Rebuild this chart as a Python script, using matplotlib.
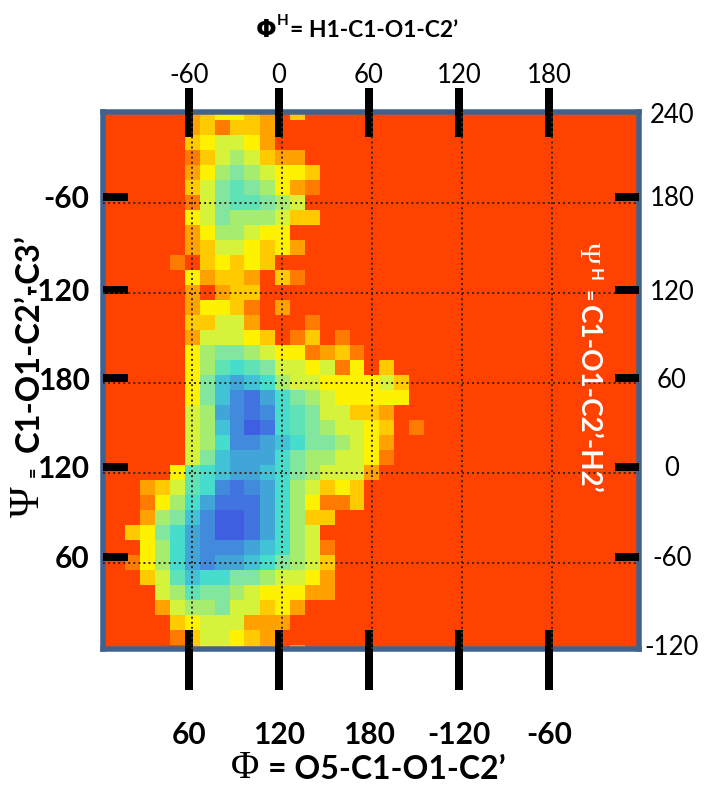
import numpy as np
import matplotlib
matplotlib.use("Agg")
import matplotlib.pyplot as plt
from matplotlib.colors import ListedColormap, BoundaryNorm

# ---------------- data ----------------
# Phi bin centres (deg) of the columns that contain non-background cells
phi_centers = np.arange(0, 220, 10)
# Psi bin centres (deg), rows listed from top (360) to bottom (0)
psi_centers = np.arange(360, -10, -10)
# relative free-energy level per cell, hex digit 0 (lowest, blue) .. e (highest, red background)
energy_rows = [
    "eeeeeecbaabcebeeeeeeee",  # 360
    "eeeeeecbdbbceeeeeeeeee",  # 350
    "eeeeeeba99aceeeeeeeeee",  # 340
    "eeeeeedb989bcceeeeeeee",  # 330
    "eeeeeeca8789aabeeeeeee",  # 320
    "eeeeeeb97678acdeeeeeee",  # 310
    "eeeeeed9766789eeeeeeee",  # 300
    "eeeeeea978889bbeeeeeee",  # 290
    "eeeeeeca889aaeeeeeeeee",  # 280
    "eeeeeecb99abaceeeeeeee",  # 270
    "eeeeedebababeeeeeeeeee",  # 260
    "eeeeeeacbbcebdeeeeeeee",  # 250
    "eeeeeececbbeeeeeeeeeee",  # 240
    "eeeeeecaabdeceeeeeeeee",  # 230
    "eeeeeebb99ceeedeeeeeee",  # 220
    "eeeeeec999abedbedeeeee",  # 210
    "eeeeeea87789aadcbdeeee",  # 200
    "eeeeeea8656799a9daebee",  # 190
    "eeeeeea74345899aaaa9be",  # 180
    "eeeeeea742135789aaaaae",  # 170
    "eeeeee98321256799bbcee",  # 160
    "eeeeee984201567899abed",  # 150
    "eeeeee985223457789acee",  # 140
    "eeeeee974333578899adee",  # 130
    "eeeeea654334578999ceee",  # 120
    "eeecb9652123589babeeee",  # 110
    "eeeda853111358addbeeee",  # 100
    "eeec8742001358bbeeeeee",  # 90
    "eeba75320013589eeeeeee",  # 80
    "eeea85322234589deeeeee",  # 70
    "eeda85323345789beeeeee",  # 60
    "eeeb9645577899aceeeeee",  # 50
    "eeee9867789aaacceeeeee",  # 40
    "eeeec988799baceeeeeeee",  # 30
    "eeeeeba999ccceeeeeeeee",  # 20
    "eeeeedb99abceeeeeeeeee",  # 10
    "eeeeeebaaabceceeeeeeee",  # 0
]
level_colors = ["#3E5FE0", "#4174E0", "#428BDC", "#42A5D8", "#42C2D6",
                "#46DDCC", "#5EE2B6", "#82E69E", "#A6EC6E", "#D4F33A",
                "#FFF200", "#FFCA00", "#FFA200", "#FF7A00", "#FF4200"]

bottom_tick_labels = ["60", "120", "180", "-120", "-60"]
top_tick_labels = ["-60", "0", "60", "120", "180"]
left_tick_labels = ["60", "120", "180", "-120", "-60"]
right_tick_labels = ["-60", "0", "60", "120", "180"]
right_end_labels = ["-120", "240"]

# ---------------- figure ----------------
W, H = 706, 787
plt.rcParams["font.family"] = ["Lato", "DejaVu Sans"]
fig = plt.figure(figsize=(W / 100, H / 100), dpi=100)


def fpx(x, y):
    return x / W, 1 - y / H


def pt(px):
    return px * 0.72


ax = fig.add_axes([102.5 / W, 1 - 649 / H, (639 - 102.5) / W, (649 - 111.5) / H])
xlim = ((102.5 - 102) / 1.5, (639 - 102) / 1.5)
ylim = ((652.5 - 649) / 1.5, (652.5 - 111.5) / 1.5)

Z = np.array([[int(ch, 16) for ch in row] for row in energy_rows])[::-1]
psi_up = psi_centers[::-1]
phi_edges = np.append(phi_centers - 5, phi_centers[-1] + 5)
psi_edges = np.append(psi_up - 5, psi_up[-1] + 5)
cmap = ListedColormap(level_colors)
norm = BoundaryNorm(np.arange(-0.5, len(level_colors) + 0.5, 1), len(level_colors))
ax.set_facecolor(level_colors[-1])
ax.pcolormesh(phi_edges, psi_edges, Z, cmap=cmap, norm=norm, shading="flat", zorder=1)
ax.set_xlim(*xlim)
ax.set_ylim(*ylim)
ax.set_axisbelow(False)

grid_kw = dict(color="#3a2418", linestyle=(0, (1, 1.6)), linewidth=1.4)
bar_w = pt(8)

# bottom axis (Phi)
ax.set_xticks([58, 118, 178, 238, 298], labels=bottom_tick_labels)
ax.set_xticks([58, 118, 178, 238, 298], minor=True)
ax.xaxis.remove_overlapping_locs = False
ax.tick_params(axis="x", which="major", direction="out", length=pt(41), width=bar_w,
               color="black", labelsize=21.5, pad=pt(31))
ax.tick_params(axis="x", which="minor", direction="in", length=pt(19), width=bar_w,
               color="black")
for t in ax.get_xticklabels():
    t.set_fontweight("bold")

# left axis (Psi)
ax.set_yticks([64, 124, 183, 242, 304], labels=left_tick_labels)
ax.set_yticks([60, 120, 180, 240, 300], minor=True)
ax.tick_params(axis="y", which="major", direction="in", length=pt(25), width=bar_w,
               color="black", labelsize=21.5, pad=pt(13))
ax.tick_params(axis="y", which="minor", length=0)
ax.yaxis.grid(True, which="minor", **grid_kw)
for t in ax.get_yticklabels():
    t.set_fontweight("bold")

for s in ax.spines.values():
    s.set_color("#41628F")
    s.set_linewidth(pt(5.5))

# top axis (Phi^H)
ax2 = ax.twiny()
ax2.set_xlim(*xlim)
ax2.set_xticks([58, 118, 178, 238, 298], labels=top_tick_labels)
ax2.set_xticks([60, 120, 180, 240, 300], minor=True)
ax2.tick_params(axis="x", which="major", direction="inout", length=pt(49), width=bar_w,
                color="black", labelsize=18.5, pad=-1)
ax2.tick_params(axis="x", which="minor", length=0)
ax2.xaxis.grid(True, which="minor", **grid_kw)

# right axis (Psi^H)
ax3 = ax.twinx()
ax3.set_ylim(*ylim)
ax3.set_yticks([64, 124, 183, 242, 304], labels=right_tick_labels)
ax3.set_yticks([5, 360], labels=right_end_labels, minor=True)
ax3.tick_params(axis="y", which="major", direction="in", length=pt(24), width=bar_w,
                color="black", labelsize=18.5, pad=pt(33))
ax3.tick_params(axis="y", which="minor", length=0, labelsize=18.5, pad=pt(33))
for t in ax3.yaxis.get_ticklabels(which="both"):
    t.set_horizontalalignment("center")

for a in (ax2, ax3):
    for s in a.spines.values():
        s.set_visible(False)

# ---------------- axis titles ----------------
serif = ["Liberation Serif", "DejaVu Serif"]
# top
fig.text(*fpx(256, 37), "Φ", ha="left", va="baseline", fontsize=17.5, fontweight="bold",
         family=["DejaVu Sans"])
fig.text(*fpx(277, 25), "H", ha="left", va="baseline", fontsize=11, fontweight="bold")
fig.text(*fpx(290, 37), "= H1-C1-O1-C2’", ha="left", va="baseline", fontsize=16.5,
         fontweight="bold")
# bottom
fig.text(*fpx(231, 778), "Φ", ha="left", va="baseline", fontsize=28, family=serif)
fig.text(*fpx(268, 779), "= O5-C1-O1-C2’", ha="left", va="baseline", fontsize=23,
         fontweight="bold")
# left
fig.text(*fpx(39, 517), "Ψ", rotation=90, rotation_mode="anchor", ha="left",
         va="baseline", fontsize=30, family=serif)
fig.text(*fpx(39, 477), "=", rotation=90, rotation_mode="anchor", ha="left",
         va="baseline", fontsize=13, fontweight="bold")
fig.text(*fpx(39, 452), "C1-O1-C2’-C3’", rotation=90, rotation_mode="anchor", ha="left",
         va="baseline", fontsize=23.5, fontweight="bold")
# right (white, inside)
fig.text(*fpx(580, 242), "Ψ", rotation=-90, rotation_mode="anchor", ha="left",
         va="baseline", fontsize=21, family=serif, color="white")
fig.text(*fpx(590, 268), "H", rotation=-90, rotation_mode="anchor", ha="left",
         va="baseline", fontsize=12, color="white", fontweight="bold")
fig.text(*fpx(582, 290), "=", rotation=-90, rotation_mode="anchor", ha="left",
         va="baseline", fontsize=14, color="white", fontweight="bold")
fig.text(*fpx(580, 305), "C1-O1-C2’-H2’", rotation=-90, rotation_mode="anchor", ha="left",
         va="baseline", fontsize=20, color="white", fontweight="bold")

fig.savefig("out.png", dpi=100)
